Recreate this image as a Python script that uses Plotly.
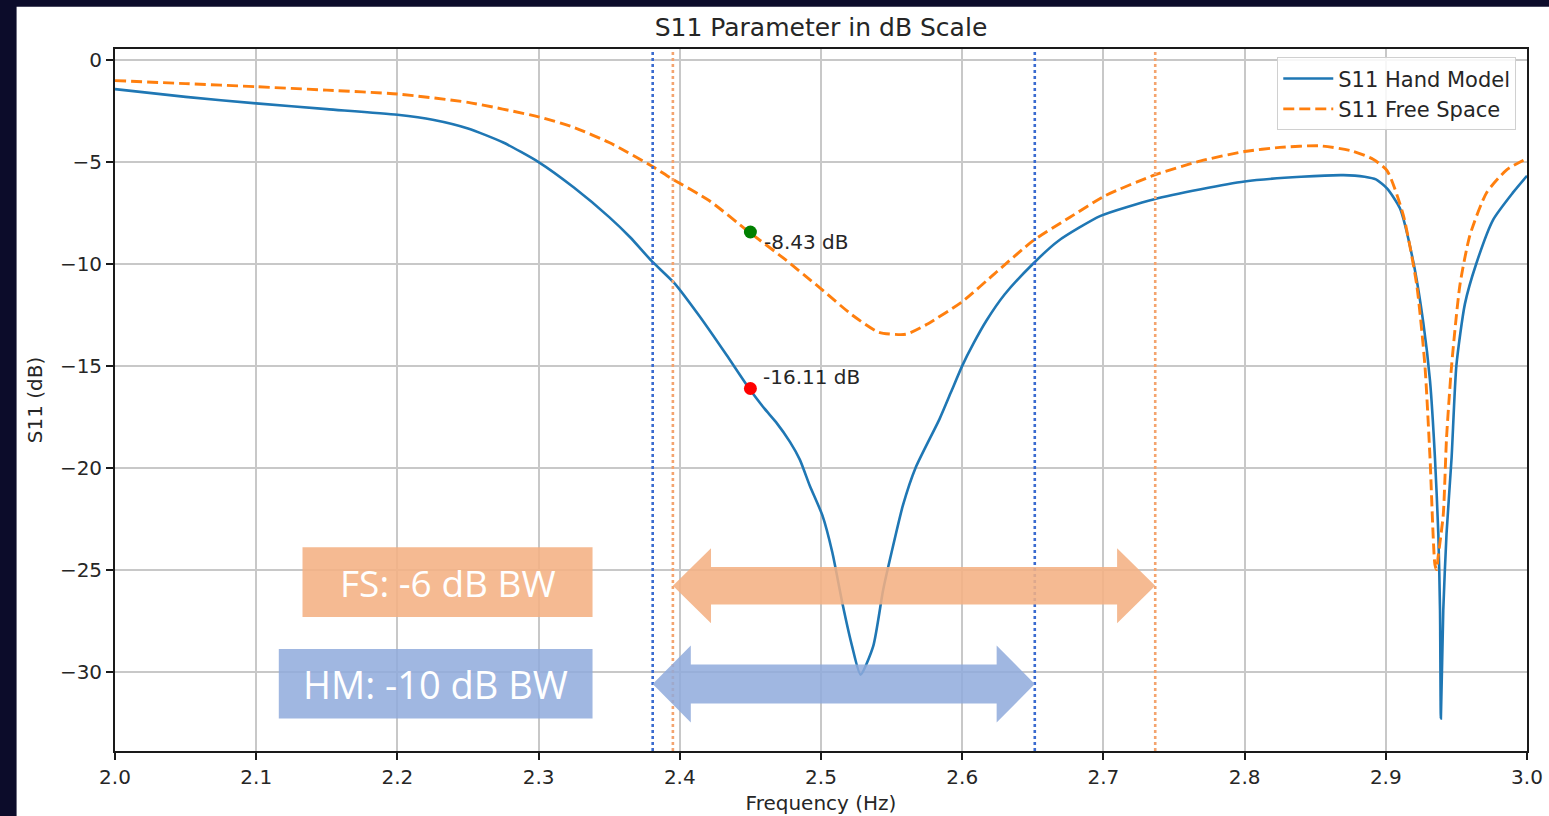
import plotly.graph_objects as go

# ---------------- data ----------------
hm_freq = [2.000, 2.050, 2.100, 2.150, 2.200, 2.225, 2.250, 2.275, 2.300, 2.325,
           2.350, 2.365, 2.380, 2.396, 2.414, 2.433, 2.449, 2.460, 2.468, 2.478,
           2.485, 2.492, 2.501, 2.508, 2.515, 2.522, 2.528, 2.537, 2.544, 2.550,
           2.558, 2.567, 2.584, 2.592, 2.600, 2.608, 2.617, 2.630, 2.650,
           2.668, 2.698, 2.736, 2.769, 2.800, 2.840, 2.870, 2.885, 2.893, 2.901,
           2.910, 2.9195, 2.9266, 2.9313, 2.9348, 2.9372, 2.9384, 2.9390, 2.9407, 2.9430,
           2.9466, 2.9500, 2.9560, 2.9640, 2.9760, 2.9900, 3.000]
hm_s11 = [-1.42, -1.80, -2.12, -2.40, -2.68, -2.92, -3.35, -4.04, -5.00, -6.25,
          -7.70, -8.70, -9.85, -10.93, -12.57, -14.46, -16.10, -17.10, -17.75, -18.73,
          -19.60, -20.87, -22.34, -24.15, -26.60, -28.75, -30.15, -28.75, -26.00, -24.15,
          -21.85, -20.00, -17.60, -16.30, -15.00, -13.90, -12.80, -11.50, -10.00,
          -8.87, -7.64, -6.82, -6.33, -5.95, -5.72, -5.64, -5.72, -5.85, -6.30,
          -7.27, -9.90, -12.90, -15.73, -19.50, -23.25, -27.00, -32.30, -27.00, -23.25,
          -19.50, -14.98, -11.97, -10.00, -7.83, -6.50, -5.67]

fs_freq = [2.000, 2.050, 2.100, 2.150, 2.200, 2.250, 2.300, 2.325, 2.350, 2.381,
           2.393, 2.421, 2.449, 2.473, 2.499, 2.522, 2.541, 2.560, 2.574, 2.600,
           2.625, 2.650, 2.676, 2.701, 2.736, 2.769, 2.800, 2.825, 2.853, 2.876,
           2.891, 2.901, 2.9124, 2.9219, 2.9277, 2.9313, 2.9348, 2.9360, 2.9370, 2.9407,
           2.9430, 2.9466, 2.9525, 2.9596, 2.9714, 2.9856, 3.000]
fs_s11 = [-1.00, -1.15, -1.30, -1.47, -1.66, -2.07, -2.78, -3.30, -4.04, -5.23,
          -5.76, -6.90, -8.43, -9.69, -11.16, -12.50, -13.35, -13.45, -13.00, -11.85,
          -10.35, -8.87, -7.72, -6.66, -5.64, -4.94, -4.48, -4.28, -4.20, -4.45,
          -4.86, -5.43, -7.60, -11.03, -14.98, -19.50, -24.76, -25.00, -24.40, -22.30,
          -18.55, -14.98, -11.03, -8.58, -6.50, -5.38, -4.82]

marker_freq = 2.45
marker_hm = -16.11
marker_fs = -8.43

hm_bw_edges = [2.3808, 2.6514]   # -10 dB band, hand model
fs_bw_edges = [2.3951, 2.7367]   # -6 dB band, free space

x_tickvals = [2.0, 2.1, 2.2, 2.3, 2.4, 2.5, 2.6, 2.7, 2.8, 2.9, 3.0]
x_ticktext = ["2.0", "2.1", "2.2", "2.3", "2.4", "2.5", "2.6", "2.7", "2.8", "2.9", "3.0"]
y_tickvals = [0, -5, -10, -15, -20, -25, -30]
y_ticktext = ["0", "\u22125", "\u221210", "\u221215", "\u221220", "\u221225", "\u221230"]

# ---------------- styling ----------------
FONT = "DejaVu Sans"
TXT = "#262626"
BLUE = "#1f77b4"
ORANGE = "#ff7f0e"
ARROW_OR = "#F4B183"
ARROW_BL = "#8FAADC"

fig = go.Figure()

fig.add_trace(go.Scatter(x=hm_freq, y=hm_s11, mode="lines", name="S11 Hand Model",
                         line=dict(color=BLUE, width=2.6, shape="spline", smoothing=0.6)))
fig.add_trace(go.Scatter(x=fs_freq, y=fs_s11, mode="lines", name="S11 Free Space",
                         line=dict(color=ORANGE, width=2.9, dash="11px,5px",
                                   shape="spline", smoothing=0.6)))
fig.add_trace(go.Scatter(x=[marker_freq], y=[marker_fs], mode="markers", showlegend=False,
                         marker=dict(color="#008000", size=13)))
fig.add_trace(go.Scatter(x=[marker_freq], y=[marker_hm], mode="markers", showlegend=False,
                         marker=dict(color="#ff0000", size=13)))

shapes = []
# white figure panel over the dark slide background
shapes.append(dict(type="rect", xref="paper", yref="paper", x0=-0.0697, x1=1.05,
                   y0=-0.2, y1=1.0602, fillcolor="white", line=dict(width=0), layer="below"))

# band edge lines
for xv in hm_bw_edges:
    shapes.append(dict(type="line", xref="x", yref="paper", x0=xv, x1=xv, y0=0, y1=1,
                       line=dict(color="#3a6bd0", width=2.6, dash="dot"), layer="above"))
for xv in fs_bw_edges:
    shapes.append(dict(type="line", xref="x", yref="paper", x0=xv, x1=xv, y0=0, y1=1,
                       line=dict(color="#F4A46E", width=2.6, dash="dot"), layer="above"))


def double_arrow(x0, x1, yc, head_len, head_half, shaft_half):
    pts = [(x0, yc), (x0 + head_len, yc + head_half), (x0 + head_len, yc + shaft_half),
           (x1 - head_len, yc + shaft_half), (x1 - head_len, yc + head_half), (x1, yc),
           (x1 - head_len, yc - head_half), (x1 - head_len, yc - shaft_half),
           (x0 + head_len, yc - shaft_half), (x0 + head_len, yc - head_half)]
    return "M " + " L ".join(f"{a},{b}" for a, b in pts) + " Z"


shapes.append(dict(type="path", xref="x", yref="y",
                   path=double_arrow(fs_bw_edges[0], fs_bw_edges[1], -25.79, 0.027, 1.84, 0.92),
                   fillcolor=ARROW_OR, opacity=0.88, line=dict(width=0), layer="above"))
shapes.append(dict(type="path", xref="x", yref="y",
                   path=double_arrow(hm_bw_edges[0], hm_bw_edges[1], -30.61, 0.027, 1.89, 0.96),
                   fillcolor=ARROW_BL, opacity=0.85, line=dict(width=0), layer="above"))

# label boxes
shapes.append(dict(type="rect", xref="x", yref="y", x0=2.1328, x1=2.3382, y0=-27.32, y1=-23.90,
                   fillcolor=ARROW_OR, opacity=0.88, line=dict(width=0), layer="above"))
shapes.append(dict(type="rect", xref="x", yref="y", x0=2.1160, x1=2.3382, y0=-32.31, y1=-28.89,
                   fillcolor=ARROW_BL, opacity=0.85, line=dict(width=0), layer="above"))

annotations = [
    dict(x=marker_freq, y=marker_fs, xref="x", yref="y", text="-8.43 dB", showarrow=False,
         xanchor="left", yanchor="middle", xshift=12, yshift=-10,
         font=dict(family=FONT, size=20, color=TXT)),
    dict(x=marker_freq, y=marker_hm, xref="x", yref="y", text="-16.11 dB", showarrow=False,
         xanchor="left", yanchor="middle", xshift=11, yshift=11,
         font=dict(family=FONT, size=20, color=TXT)),
    dict(x=(2.1328 + 2.3382) / 2, y=(-27.32 - 23.90) / 2, xref="x", yref="y",
         text="FS: -6 dB BW", showarrow=False, xanchor="center", yanchor="middle",
         font=dict(family="Open Sans", size=37, color="white")),
    dict(x=(2.1160 + 2.3382) / 2, y=(-32.31 - 28.89) / 2, xref="x", yref="y",
         text="HM: -10 dB BW", showarrow=False, xanchor="center", yanchor="middle",
         font=dict(family="Open Sans", size=38, color="white")),
]

axis_common = dict(showgrid=True, gridcolor="#c8c8c8", gridwidth=1.6,
                   showline=True, linecolor="#1a1a1a", linewidth=1.8, mirror=True,
                   ticks="outside", ticklen=7, tickwidth=1.7, tickcolor="#1a1a1a",
                   tickfont=dict(family=FONT, size=20, color=TXT), zeroline=False)

fig.update_layout(
    width=1549, height=816,
    margin=dict(l=115, r=22, t=49, b=65),
    paper_bgcolor="#0c0c2a", plot_bgcolor="white",
    title=dict(text="S11 Parameter in dB Scale", x=0.530, xanchor="center",
               y=1 - 27 / 816, yanchor="middle",
               font=dict(family=FONT, size=25, color=TXT)),
    xaxis=dict(range=[2.0, 3.0], tickvals=x_tickvals, ticktext=x_ticktext,
               title=dict(text="Frequency (Hz)", standoff=8,
                          font=dict(family=FONT, size=20, color=TXT)),
               automargin=False, **axis_common),
    yaxis=dict(range=[-33.9, 0.55], tickvals=y_tickvals, ticktext=y_ticktext,
               title=dict(text="S11 (dB)", standoff=12,
                          font=dict(family=FONT, size=20, color=TXT)),
               automargin=False, **axis_common),
    legend=dict(x=0.9924, xanchor="right", y=0.988, yanchor="top",
                bgcolor="rgba(255,255,255,0.85)", bordercolor="#d0d0d0", borderwidth=1,
                itemwidth=50, tracegroupgap=6,
                font=dict(family=FONT, size=21, color=TXT)),
    shapes=shapes,
    annotations=annotations,
    showlegend=True,
)

fig.write_html("out.html")
